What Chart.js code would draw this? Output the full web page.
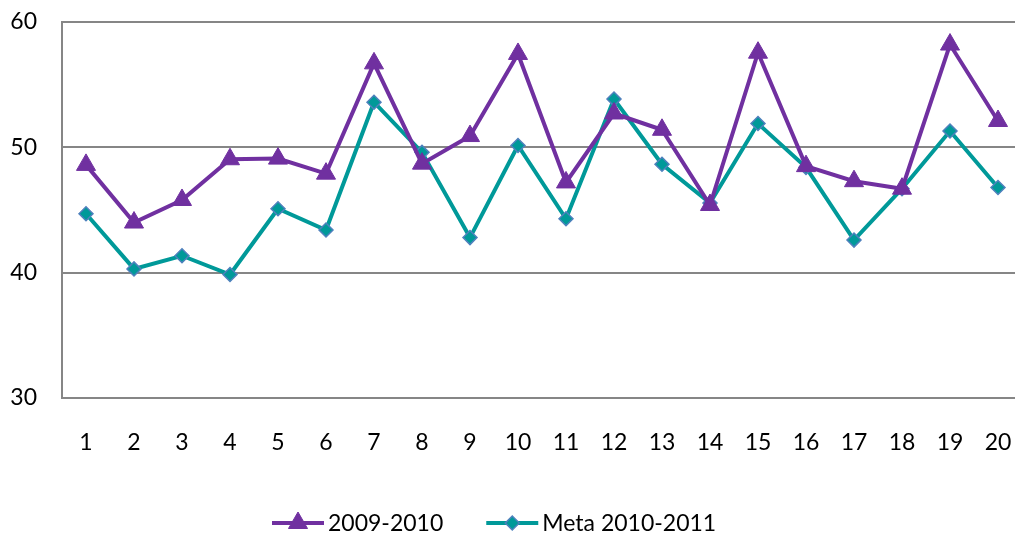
<!DOCTYPE html>
<html>
<head>
<meta charset="utf-8">
<script src="https://cdn.jsdelivr.net/npm/chart.js@4/dist/chart.umd.min.js"></script>
<style>
  html, body { margin: 0; padding: 0; background: #fff; overflow: hidden; }
  #wrap { width: 1034px; height: 537px; }
</style>
</head>
<body>
<div id="wrap"><canvas id="lineChart" width="1034" height="537"></canvas></div>
<script>
const labels = ["1","2","3","4","5","6","7","8","9","10","11","12","13","14","15","16","17","18","19","20"];
const serie2009 = [48.6, 44.0, 45.8, 49.05, 49.1, 47.9, 56.7, 48.7, 50.9, 57.45, 47.2, 52.7, 51.4, 45.4, 57.55, 48.5, 47.3, 46.7, 58.2, 52.1];
const meta2010 = [44.7, 40.3, 41.35, 39.85, 45.1, 43.4, 53.6, 49.6, 42.8, 50.15, 44.3, 53.85, 48.65, 45.55, 51.9, 48.4, 42.6, 46.7, 51.3, 46.8];
const yTicks = [30, 40, 50, 60];

const purple = "#7030A0";
const teal = "#009999";
const font = "Lato";

// legend drawn by hand: line with the marker on it, like Excel
const lineLegend = {
  id: "lineLegend",
  afterDraw(chart) {
    const ctx = chart.ctx;
    const y = 523;
    let x = 272;
    ctx.save();
    ctx.font = "23px " + font;
    ctx.textBaseline = "middle";
    chart.data.datasets.forEach(ds => {
      ctx.strokeStyle = ds.borderColor;
      ctx.lineWidth = 4;
      ctx.beginPath();
      ctx.moveTo(x, y);
      ctx.lineTo(x + 52, y);
      ctx.stroke();
      ctx.fillStyle = ds.pointBackgroundColor;
      ctx.strokeStyle = ds.pointBorderColor;
      ctx.lineWidth = ds.pointBorderWidth;
      Chart.helpers.drawPoint(ctx, { pointStyle: ds.pointStyle, radius: ds.pointRadius, rotation: 0, borderWidth: ds.pointBorderWidth }, x + 26, y);
      ctx.fillStyle = "#000";
      ctx.fillText(ds.label, x + 56, y + 1);
      x += 56 + ctx.measureText(ds.label).width + 43;
    });
    ctx.restore();
  }
};

new Chart(document.getElementById("lineChart"), {
  type: "line",
  data: {
    labels,
    datasets: [
      {
        label: "2009-2010",
        data: serie2009,
        borderColor: purple,
        borderWidth: 4,
        pointStyle: "triangle",
        pointRadius: 11,
        pointBackgroundColor: purple,
        pointBorderColor: purple,
        pointBorderWidth: 1,
        tension: 0
      },
      {
        label: "Meta 2010-2011",
        data: meta2010,
        borderColor: teal,
        borderWidth: 4,
        pointStyle: "rectRot",
        pointRadius: 7,
        pointBackgroundColor: teal,
        pointBorderColor: "#4F81BD",
        pointBorderWidth: 1.5,
        tension: 0
      }
    ]
  },
  options: {
    responsive: false,
    animation: false,
    layout: { padding: { top: 22, right: 0, bottom: 0, left: 0 } },
    plugins: {
      legend: { display: false },
      tooltip: { enabled: false }
    },
    scales: {
      x: {
        offset: true,
        grid: { display: false },
        border: { display: true, color: "#868686", width: 2 },
        ticks: { color: "#000", font: { family: font, size: 23 }, padding: 23, maxRotation: 0, autoSkip: false },
        afterFit(scale) {
          scale.height = 139;
          scale.paddingLeft = 0;
          scale.paddingRight = 0;
        }
      },
      y: {
        min: 30,
        max: 60,
        afterBuildTicks(scale) { scale.ticks = yTicks.map(v => ({ value: v })); },
        grid: { color: "#868686", lineWidth: 2, drawTicks: false },
        border: { display: true, color: "#868686", width: 2 },
        ticks: { color: "#000", font: { family: font, size: 23 }, padding: 25 },
        afterFit(scale) {
          scale.width = 62;
          scale.paddingTop = 0;
          scale.paddingBottom = 0;
        }
      }
    }
  },
  plugins: [lineLegend]
});
</script>
</body>
</html>
